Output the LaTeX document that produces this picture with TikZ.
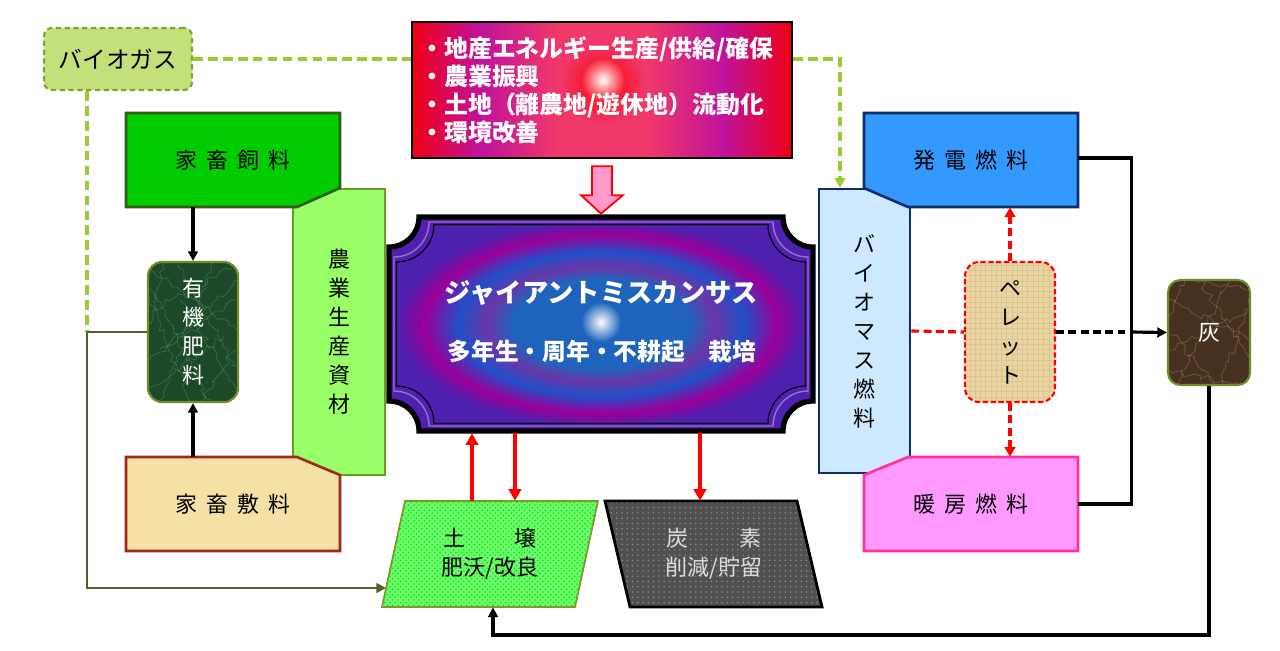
\documentclass[tikz,border=0pt]{standalone}
\usepackage{fontspec}
\setmainfont{Noto Sans CJK JP}
\usetikzlibrary{arrows.meta,patterns,fadings,calc,decorations.pathmorphing}
\newlength\px \setlength\px{0.02cm}
\definecolor{bgFill}{HTML}{C3E07B}\definecolor{bgEdge}{HTML}{7EA632}
\definecolor{feedFill}{HTML}{00CC00}\definecolor{feedEdge}{HTML}{2F5F14}
\definecolor{agriFill}{HTML}{99FF66}\definecolor{agriEdge}{HTML}{6E9A2C}
\definecolor{bedFill}{HTML}{F5E1A5}\definecolor{bedEdge}{HTML}{A3281C}
\definecolor{orgFill}{HTML}{1D4829}\definecolor{orgEdge}{HTML}{6E8E2A}\definecolor{orgVein}{HTML}{5E9E6E}
\definecolor{powFill}{HTML}{3399FF}\definecolor{powEdge}{HTML}{0E2C6E}
\definecolor{bioFill}{HTML}{CCE9FF}
\definecolor{heatFill}{HTML}{FF99FF}\definecolor{heatEdge}{HTML}{FF3399}
\definecolor{pelFill}{HTML}{E8D5A2}\definecolor{pelGrid}{HTML}{DCC593}
\definecolor{ashFill}{HTML}{46301F}\definecolor{ashVein}{HTML}{A88A66}
\definecolor{soilFill}{HTML}{66FF66}\definecolor{soilDot}{HTML}{2ECC2E}\definecolor{soilEdge}{HTML}{7A9A30}
\definecolor{carbFill}{HTML}{505050}\definecolor{carbDot}{HTML}{8A8A8A}
\definecolor{textGray}{HTML}{DDDDDD}
\definecolor{oliveLine}{HTML}{4F6228}
\definecolor{greenDash}{HTML}{99CC33}
\definecolor{pinkArrow}{HTML}{FF99CC}
\definecolor{rbRed}{HTML}{F00012}\definecolor{rbPurple}{HTML}{C0129C}\definecolor{rbPink}{HTML}{F0386A}
\definecolor{pqCenter}{HTML}{1E64BC}\definecolor{pqBlue}{HTML}{2050C8}
\definecolor{pqPurple}{HTML}{6A36A8}\definecolor{pqMagenta}{HTML}{9A009A}\definecolor{pqEdge}{HTML}{5020B0}
\pgfdeclarehorizontalshading{redbar}{100bp}{color(0bp)=(rbRed); color(25bp)=(rbRed); color(34bp)=(rbPurple); color(44bp)=(rbPink); color(56bp)=(rbPink); color(66bp)=(rbPurple); color(75bp)=(rbRed); color(100bp)=(rbRed)}
\pgfdeclareradialshading{plaqueshade}{\pgfpoint{0bp}{0bp}}{color(0bp)=(pqCenter); color(10.5bp)=(pqCenter); color(13.5bp)=(pqPurple); color(16.8bp)=(pqBlue); color(20.8bp)=(pqMagenta); color(24bp)=(pqEdge); color(50bp)=(pqEdge)}
\tikzfading[name=glowfade, inner color=transparent!0, outer color=transparent!100]
\newcommand\plqpath[5]{({#1+#5},#2) -- ({#3-#5},#2) .. controls ({#3-#5},{#2+0.552*#5}) and ({#3-0.552*#5},{#2+#5}) .. (#3,{#2+#5}) -- (#3,{#4-#5}) .. controls ({#3-0.552*#5},{#4-#5}) and ({#3-#5},{#4-0.552*#5}) .. ({#3-#5},#4) -- ({#1+#5},#4) .. controls ({#1+#5},{#4-0.552*#5}) and ({#1+0.552*#5},{#4-#5}) .. (#1,{#4-#5}) -- (#1,{#2+#5}) .. controls ({#1+0.552*#5},{#2+#5}) and ({#1+#5},{#2+0.552*#5}) .. ({#1+#5},#2) -- cycle}
\begin{document}
\begin{tikzpicture}[x=0.02cm,y=-0.02cm,
  lbl/.style={inner sep=0pt, align=center, font=\fontsize{12.5pt}{16.5pt}\selectfont},
  blk/.style={line width=1.8pt, black},
  blkarrow/.style={blk, -{Triangle[length=5.5pt,width=5.5pt]}},
  redarr/.style={line width=1.8pt, red, -{Triangle[length=6.5pt,width=7pt]}},
  reddash/.style={line width=1.8pt, red, dash pattern=on 4.5pt off 2.5pt},
  greendash/.style={line width=1.9pt, greenDash, dash pattern=on 5.5pt off 3pt},
  olivearrow/.style={line width=1.6pt, oliveLine, -{Triangle[length=5.5pt,width=5.5pt]}},
  vein/.style={decorate, decoration={random steps, segment length=2.5pt, amplitude=1.8pt}, line width=0.45pt, opacity=0.4}]
\useasboundingbox (0,0) rectangle (1280,650);
\pgfmathsetseed{7}

% ---------- top: biogas and goals ----------
\node[lbl, draw=bgEdge, fill=bgFill, line width=1.2pt, dash pattern=on 3pt off 2pt,
      rounded corners=4.5pt, minimum width=148\px, minimum height=62\px,
      font=\fontsize{13.5pt}{16pt}\selectfont] (biogas) at (118,59) {バイオガス};

\node[draw=black, line width=1.3pt, shade, shading=redbar, minimum width=380\px, minimum height=136\px] (goals) at (602,90) {};
\fill[red, path fading=glowfade] (603,83) circle (42);
\fill[white, path fading=glowfade] (603,80) circle (22);
\node[inner sep=0pt, anchor=west, align=left, text=white,
      font=\bfseries\fontsize{13.6pt}{15.9pt}\selectfont] (goalstext) at (420,90)
  {・地産エネルギー生産/供給/確保\\・農業振興\\・土地（離農地/遊休地）流動化\\・環境改善};

% ---------- central plaque ----------
\node[inner sep=0pt, minimum width=428\px, minimum height=218\px] (plaque) at (601,324) {};
\shade[shading=plaqueshade] \plqpath{389}{217}{813}{431}{30};
\draw[line width=3pt, black] \plqpath{389}{217}{813}{431}{30};
\draw[line width=0.8pt, color=pqPurple!70!white] \plqpath{394}{222}{808}{426}{35};
\draw[line width=0.6pt, black] \plqpath{396.5}{224.5}{805.5}{423.5}{37.5};
\fill[white, path fading=glowfade] (601,322) circle (20);
\node[inner sep=0pt, text=white, font=\bfseries\fontsize{15pt}{18pt}\selectfont] (title) at (601,293) {ジャイアントミスカンサス};
\node[inner sep=0pt, text=white, font=\bfseries\fontsize{13.5pt}{16pt}\selectfont] (subtitle) at (602,352) {多年生・周年・不耕起　栽培};

% pink block arrow
\fill[pinkArrow, draw=red, line width=1pt, line join=miter]
  ($(goals.south)+(-10,7)$) -- ($(goals.south)+(10,7)$) -- ($(goals.south)+(10,36)$) --
  ($(goals.south)+(21,36)$) -- ($(plaque.north)+(0,-1)$) -- ($(goals.south)+(-21,36)$) --
  ($(goals.south)+(-10,36)$) -- cycle;

% ---------- left side ----------
\node[lbl, draw=agriEdge, fill=agriFill, line width=1.2pt, minimum width=92\px, minimum height=286\px] (agri) at (339,332) {農\\業\\生\\産\\資\\材};

\filldraw[fill=feedFill, draw=feedEdge, line width=1.5pt, line join=miter]
  (126,113) -- (340,113) -- (340,188) -- (297,207) -- (126,207) -- cycle;
\node[lbl, minimum width=214\px, minimum height=94\px] (feed) at (233,160) {家\hspace{5pt}畜\hspace{5pt}飼\hspace{5pt}料};

\filldraw[fill=bedFill, draw=bedEdge, line width=1.5pt, line join=miter]
  (126,457) -- (297,457) -- (340,475) -- (340,551) -- (126,551) -- cycle;
\node[lbl, minimum width=214\px, minimum height=94\px] (bedding) at (233,504) {家\hspace{5pt}畜\hspace{5pt}敷\hspace{5pt}料};

% marble fill of organic fertiliser
\fill[orgFill, rounded corners=8pt] (148,262) rectangle (238,402);
\begin{scope}
  \clip[rounded corners=8pt] (148,262) rectangle (238,402);
  \foreach \a/\b/\c/\d in {150/270/236/330, 152/310/232/268, 160/400/214/262, 150/360/236/300,
                           176/262/238/372, 148/392/224/336, 200/402/236/350, 150/300/190/402,
                           148/282/210/402, 238/280/160/350, 165/262/148/330, 238/390/180/300}
    \draw[vein, orgVein] (\a,\b) -- (\c,\d);
\end{scope}
\node[lbl, draw=orgEdge, line width=1.2pt, rounded corners=8pt, text=white,
      minimum width=90\px, minimum height=140\px] (organic) at (193,332) {有\\機\\肥\\料};

% ---------- right side ----------
\node[lbl, draw=powEdge, fill=bioFill, line width=1.5pt, minimum width=91\px, minimum height=284\px] (biomass) at (864.5,331) {バ\\イ\\オ\\マ\\ス\\燃\\料};

\filldraw[fill=powFill, draw=powEdge, line width=1.5pt, line join=miter]
  (864,113) -- (1078,113) -- (1078,207) -- (908,207) -- (864,188) -- cycle;
\node[lbl, minimum width=214\px, minimum height=94\px] (power) at (971,160) {発\hspace{5pt}電\hspace{5pt}燃\hspace{5pt}料};

\filldraw[fill=heatFill, draw=heatEdge, line width=1.5pt, line join=miter]
  (908,457) -- (1078,457) -- (1078,551) -- (864,551) -- (864,475) -- cycle;
\node[lbl, minimum width=214\px, minimum height=94\px] (heating) at (971,504) {暖\hspace{5pt}房\hspace{5pt}燃\hspace{5pt}料};

% burlap fill of pellet
\fill[pelFill, rounded corners=8pt] (965,262) rectangle (1055,402);
\fill[pattern=grid, pattern color=pelGrid, rounded corners=8pt] (965,262) rectangle (1055,402);
\node[lbl, draw=red, line width=1.2pt, dash pattern=on 3pt off 1.5pt, rounded corners=8pt,
      minimum width=90\px, minimum height=140\px] (pellet) at (1010,332) {ペ\\レ\\ッ\\ト};

% marble fill of ash
\fill[ashFill, rounded corners=7pt] (1168,280) rectangle (1250,385);
\begin{scope}
  \clip[rounded corners=7pt] (1168,280) rectangle (1250,385);
  \foreach \a/\b/\c/\d in {1168/300/1250/340, 1175/385/1230/280, 1168/350/1250/310, 1200/280/1250/360,
                           1168/330/1215/385, 1185/280/1168/320, 1220/385/1250/300, 1168/370/1240/385,
                           1190/280/1250/290}
    \draw[vein, ashVein] (\a,\b) -- (\c,\d);
\end{scope}
\node[lbl, draw=orgEdge, line width=1.2pt, rounded corners=7pt, text=white,
      minimum width=82\px, minimum height=105\px] (ash) at (1209,332.5) {灰};

% ---------- bottom parallelograms ----------
\draw[line width=1pt, draw=soilEdge, preaction={fill=soilFill}, pattern=crosshatch dots, pattern color=soilDot]
  (405,501) -- (598,501) -- (575,607) -- (382,607) -- cycle;
\node[lbl, minimum width=193\px, minimum height=106\px] (soil) at (490,554) {土\hspace{28pt}壌\\肥沃/改良};

\draw[line width=1.6pt, draw=black, line join=miter, preaction={fill=carbFill}, pattern=dots, pattern color=carbDot]
  (605,501) -- (797,501) -- (822,607) -- (630,607) -- cycle;
\node[lbl, text=textGray, minimum width=193\px, minimum height=106\px] (carbon) at (714,554) {炭\hspace{29pt}素\\削減/貯留};

% ---------- connectors ----------
\draw[greendash] (biogas.east) -- (goals.west |- biogas.east);
\coordinate (gcorner) at (840,59);
\draw[greendash, -{Triangle[length=5.5pt,width=6pt]}] (goals.east |- biogas.east) -- (gcorner) -- (gcorner |- biomass.north);
\path (organic.west) ++(-60,0) coordinate (oljoin);
\draw[greendash] (oljoin |- biogas.south) -- (oljoin);
\coordinate (soilin) at (386,588);
\draw[olivearrow] (organic.west) -- (oljoin) -- (oljoin |- soilin) -- (soilin);

\draw[blkarrow] (feed.south -| organic.north) -- (organic.north);
\draw[blkarrow] (bedding.north -| organic.south) -- (organic.south);

\coordinate (s1) at ($(soil.north)+(-18,0)$);
\coordinate (s2) at ($(soil.north)+(25,0)$);
\coordinate (c1) at ($(carbon.north)+(-14,0)$);
\draw[redarr] (s1) -- (s1 |- plaque.south);
\draw[redarr] (s2 |- plaque.south) -- (s2);
\draw[redarr] (c1 |- plaque.south) -- (c1);

\draw[reddash] (biomass.east) -- (pellet.west);
\draw[reddash, -{Triangle[length=5.5pt,width=6pt]}] (pellet.north) -- (pellet.north |- power.south);
\draw[reddash, -{Triangle[length=5.5pt,width=6pt]}] (pellet.south) -- (pellet.south |- heating.north);

\path (power.east) ++(53,-2) coordinate (pwturn);
\draw[blk] ($(power.east)+(0,-2)$) -- (pwturn) -- (pwturn |- heating.east) -- (heating.east);
\draw[blk, dash pattern=on 4.5pt off 2.5pt] (pellet.east) -- (pellet.east -| pwturn);
\draw[blkarrow] (pellet.east -| pwturn) -- (ash.west);

\path (ash.south) ++(0,249) coordinate (ashdown);
\coordinate (s3) at ($(soil.south)+(3,0)$);
\draw[blkarrow] (ash.south) -- (ashdown) -- (ashdown -| s3) -- (s3);
\end{tikzpicture}
\end{document}
